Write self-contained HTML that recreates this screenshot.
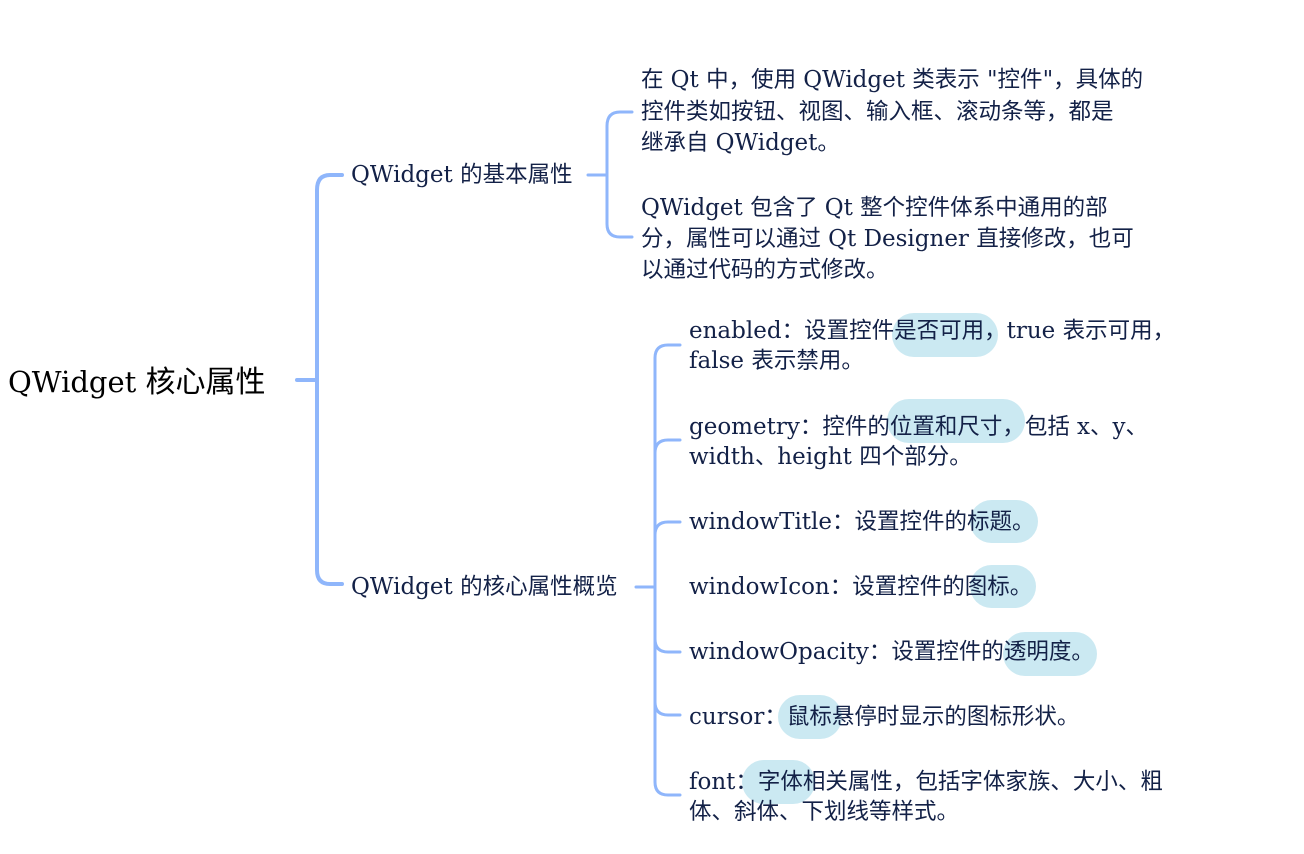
<!DOCTYPE html>
<html><head><meta charset="utf-8">
<style>
body{margin:0;width:1304px;height:854px;background:#fff;position:relative;overflow:hidden;font-family:"DejaVu Serif","Noto Sans CJK SC",serif;color:#132147}
.t{position:absolute;white-space:nowrap;font-size:22.5px;line-height:30px}
.t i{font-style:normal;font-size:23px}
.h{position:absolute;background:#cbe9f2;border-radius:22px}
svg{position:absolute;left:0;top:0}
</style></head><body>
<div class="h" style="left:892px;top:313px;width:106px;height:44px"></div>
<div class="h" style="left:887px;top:399px;width:138px;height:44px"></div>
<div class="h" style="left:970px;top:500px;width:68px;height:43px"></div>
<div class="h" style="left:970px;top:565px;width:66px;height:43px"></div>
<div class="h" style="left:1003px;top:632px;width:94px;height:44px"></div>
<div class="h" style="left:778px;top:695px;width:64px;height:44px"></div>
<div class="h" style="left:742px;top:760px;width:73px;height:44px"></div>
<svg width="1304" height="854" fill="none" stroke="#8fb6fb" stroke-linecap="round">
<g stroke-width="4">
<path d="M297 380H317"/>
<path d="M342 175H330Q317 175 317 190V570Q317 584 330 584H342"/>
</g>
<g stroke-width="3">
<path d="M588 175H607"/>
<path d="M632 112H620Q607 112 607 126V224Q607 237 620 237H632"/>
<path d="M636 587H655"/>
<path d="M680 345H668Q655 345 655 358V782Q655 795 668 795H680"/>
<path d="M680 440H668Q655 440 655 453"/>
<path d="M680 522H668Q655 522 655 535"/>
<path d="M680 652H668Q655 652 655 639"/>
<path d="M680 715H668Q655 715 655 702"/>
</g>
</svg>
<div class="t" style="left:8px;top:363px;font-size:30px;line-height:38px;color:#000"><i style="font-size:29px">QWidget </i>核心属性</div>
<div class="t" style="left:351px;top:160px"><i>QWidget </i>的基本属性</div>
<div class="t" style="left:351px;top:572px"><i>QWidget </i>的核心属性概览</div>
<div class="t" style="left:641px;top:65px">在 <i>Qt </i>中，使用 <i>QWidget </i>类表示 <i>"</i>控件<i>"</i>，具体的</div>
<div class="t" style="left:641px;top:97px">控件类如按钮、视图、输入框、滚动条等，都是</div>
<div class="t" style="left:641px;top:128px">继承自 <i>QWidget</i>。</div>
<div class="t" style="left:641px;top:193px"><i>QWidget </i>包含了 <i>Qt </i>整个控件体系中通用的部</div>
<div class="t" style="left:641px;top:224px">分，属性可以通过 <i>Qt Designer </i>直接修改，也可</div>
<div class="t" style="left:641px;top:255px">以通过代码的方式修改。</div>
<div class="t" style="left:689px;top:316px"><i>enabled</i>：设置控件是否可用，<i>true </i>表示可用，</div>
<div class="t" style="left:689px;top:346px"><i>false </i>表示禁用。</div>
<div class="t" style="left:689px;top:412px"><i>geometry</i>：控件的位置和尺寸，包括 <i>x</i>、<i>y</i>、</div>
<div class="t" style="left:689px;top:442px"><i>width</i>、<i>height </i>四个部分。</div>
<div class="t" style="left:689px;top:507px"><i>windowTitle</i>：设置控件的标题。</div>
<div class="t" style="left:689px;top:572px"><i>windowIcon</i>：设置控件的图标。</div>
<div class="t" style="left:689px;top:637px"><i>windowOpacity</i>：设置控件的透明度。</div>
<div class="t" style="left:689px;top:702px"><i>cursor</i>：鼠标悬停时显示的图标形状。</div>
<div class="t" style="left:689px;top:767px"><i>font</i>：字体相关属性，包括字体家族、大小、粗</div>
<div class="t" style="left:689px;top:797px">体、斜体、下划线等样式。</div>
</body></html>
